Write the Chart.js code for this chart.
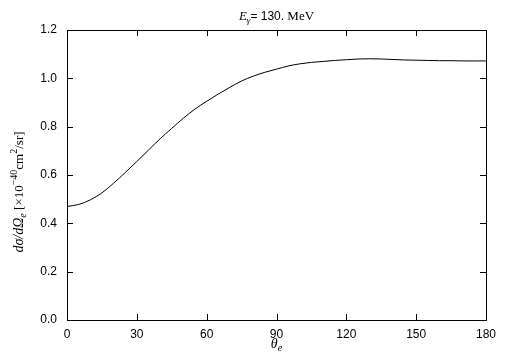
<!DOCTYPE html>
<html>
<head>
<meta charset="utf-8">
<script src="https://cdn.jsdelivr.net/npm/chart.js@4"></script>
<style>
  html, body { margin: 0; padding: 0; background: #fff; }
  #wrap { width: 505px; height: 361px; }
</style>
</head>
<body>
<div id="wrap"><canvas id="chart"></canvas></div>
<script>
// angle of the electron (degrees) and cross section values
const angles = [0, 5, 10, 15, 20, 25, 30, 35, 40, 45, 50, 55, 60, 65, 70, 75, 80, 85, 90,
    95, 100, 105, 110, 115, 120, 125, 130, 135, 140, 145, 150, 155, 160, 165, 170, 175, 180];
const crossSection = [0.470, 0.478, 0.497, 0.526, 0.566, 0.610, 0.656, 0.703, 0.750, 0.793,
    0.835, 0.873, 0.905, 0.935, 0.963, 0.989, 1.009, 1.025, 1.038, 1.051, 1.060, 1.066,
    1.070, 1.074, 1.077, 1.080, 1.081, 1.080, 1.078, 1.076, 1.075, 1.074, 1.073, 1.073,
    1.072, 1.072, 1.072];
const xTicks = [0, 30, 60, 90, 120, 150, 180];
const yTicks = [0, 0.2, 0.4, 0.6, 0.8, 1.0, 1.2];

const serif = '"Liberation Serif", "DejaVu Serif", serif';
const sans = '"Liberation Sans", Arial, sans-serif';

// draws a list of text pieces (with sub/superscripts) centred on x
function drawPieces(ctx, pieces, cx, y) {
    let total = 0;
    for (let p of pieces) {
        ctx.font = p.font;
        total += ctx.measureText(p.text).width;
    }
    let x = cx - total / 2;
    ctx.textAlign = 'left';
    ctx.textBaseline = 'alphabetic';
    for (let p of pieces) {
        ctx.font = p.font;
        ctx.fillText(p.text, x, y + (p.dy || 0));
        x += ctx.measureText(p.text).width;
    }
}

const framePlugin = {
    id: 'frame',
    afterDraw(chart) {
        const ctx = chart.ctx;
        const a = chart.chartArea;
        const xs = chart.scales.x;
        const ys = chart.scales.y;
        ctx.save();
        ctx.strokeStyle = '#000';
        ctx.lineWidth = 1;
        ctx.strokeRect(Math.round(a.left) + 0.5, Math.round(a.top) + 0.5,
            Math.round(a.right - a.left), Math.round(a.bottom - a.top));

        // inward ticks on all four sides
        const len = 6;
        ctx.beginPath();
        for (let v of xTicks) {
            const px = Math.round(xs.getPixelForValue(v)) + 0.5;
            ctx.moveTo(px, a.bottom); ctx.lineTo(px, a.bottom - len);
            ctx.moveTo(px, a.top); ctx.lineTo(px, a.top + len);
        }
        for (let v of yTicks) {
            const py = Math.round(ys.getPixelForValue(v)) + 0.5;
            ctx.moveTo(a.left, py); ctx.lineTo(a.left + len, py);
            ctx.moveTo(a.right, py); ctx.lineTo(a.right - len, py);
        }
        ctx.stroke();

        ctx.fillStyle = '#000';
        const cx = (a.left + a.right) / 2;

        // title
        drawPieces(ctx, [
            { text: 'E', font: 'italic 13px ' + serif },
            { text: 'γ', font: 'italic 9px ' + serif, dy: 3 },
            { text: '= 130.', font: '12px ' + sans },
            { text: ' MeV', font: '13px ' + serif }
        ], cx, 20);

        // x label
        drawPieces(ctx, [
            { text: 'θ', font: 'italic 14px ' + serif },
            { text: 'e', font: 'italic 10px ' + serif, dy: 3 }
        ], cx, 348);

        // y label, rotated (sits a bit below the middle of the axis)
        ctx.save();
        ctx.translate(23, 192);
        ctx.rotate(-Math.PI / 2);
        drawPieces(ctx, [
            { text: 'dσ/dΩ', font: 'italic 14px ' + serif },
            { text: 'e', font: 'italic 10px ' + serif, dy: 3 },
            { text: ' [×10', font: '13px ' + serif },
            { text: '−40', font: '10px ' + serif, dy: -6 },
            { text: 'cm', font: '13px ' + serif },
            { text: '2', font: '10px ' + serif, dy: -6 },
            { text: '/sr]', font: '13px ' + serif }
        ], 0, 0);
        ctx.restore();
        ctx.restore();
    }
};

const ctx = document.getElementById('chart').getContext('2d');
new Chart(ctx, {
    type: 'line',
    data: {
        datasets: [{
            data: angles.map((a, i) => ({ x: a, y: crossSection[i] })),
            borderColor: '#000',
            borderWidth: 1,
            pointRadius: 0,
            fill: false,
            cubicInterpolationMode: 'monotone'
        }]
    },
    options: {
        responsive: true,
        maintainAspectRatio: false,
        animation: false,
        events: [],
        layout: { padding: { top: 30, right: 19, bottom: 0, left: 0 } },
        plugins: {
            legend: { display: false },
            tooltip: { enabled: false },
            title: { display: false }
        },
        scales: {
            x: {
                type: 'linear',
                min: 0,
                max: 180,
                afterBuildTicks: (scale) => { scale.ticks = xTicks.map(v => ({ value: v })); },
                afterFit: (scale) => { scale.height = 41; },
                grid: { display: false, drawTicks: false },
                border: { display: false },
                ticks: {
                    color: '#000',
                    font: { family: sans, size: 12 },
                    padding: 7,
                    maxRotation: 0
                }
            },
            y: {
                type: 'linear',
                min: 0,
                max: 1.2,
                afterBuildTicks: (scale) => { scale.ticks = yTicks.map(v => ({ value: v })); },
                afterFit: (scale) => { scale.width = 67; },
                grid: { display: false, drawTicks: false },
                border: { display: false },
                ticks: {
                    color: '#000',
                    font: { family: sans, size: 12 },
                    padding: 10,
                    callback: (v) => v.toFixed(1)
                }
            }
        }
    },
    plugins: [framePlugin]
});
</script>
</body>
</html>
